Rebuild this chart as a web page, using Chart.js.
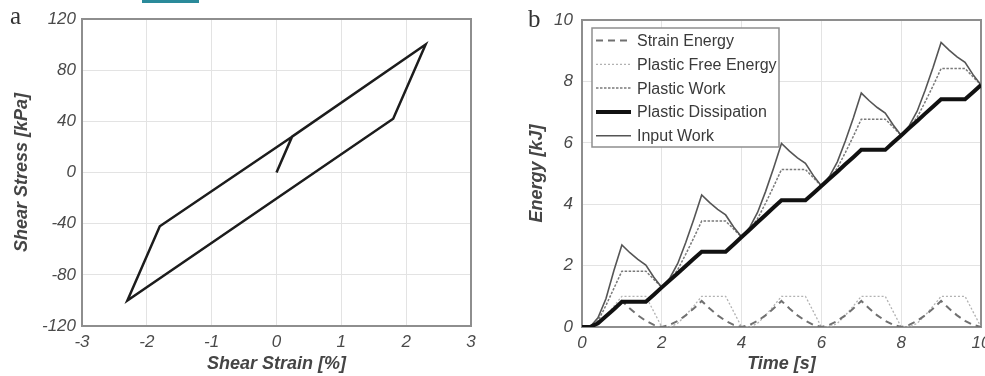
<!DOCTYPE html>
<html><head><meta charset="utf-8">
<script src="https://cdn.jsdelivr.net/npm/chart.js@4.4.0/dist/chart.umd.min.js"></script>
<style>
html,body{margin:0;padding:0;background:#fff;overflow:hidden;width:985px;height:376px;position:relative;}
#wa{position:absolute;left:0;top:0;width:490px;height:376px;}
#wb{position:absolute;left:490px;top:0;width:510px;height:376px;}
.lbl{position:absolute;font-family:"Liberation Serif","Times New Roman",serif;font-size:25px;line-height:25px;color:#333;}
#la{left:10px;top:3px;}
#lb{left:528px;top:6px;}
#link{position:absolute;left:142px;top:0;width:57px;height:3px;background:#2a8a9a;}
</style></head><body>
<div id="wa"><canvas id="ca" width="490" height="376"></canvas></div>
<div id="wb"><canvas id="cb" width="510" height="376"></canvas></div>
<div id="link"></div>
<div class="lbl" id="la">a</div>
<div class="lbl" id="lb">b</div>
<script>
// ---- Panel a: hysteresis loop ----
const strain = [0, 0.24, 2.3, 1.8, -2.3, -1.8, 0.24];
const stress = [0, 28, 100, 42, -100, -42, 28];

// ---- Panel b: energies vs time ----
const time = [0,0.2,0.4,0.6,0.8,1.0,1.2,1.4,1.6,1.8,2.0,2.2,2.4,2.6,2.8,3.0,3.2,3.4,3.6,3.8,4.0,4.2,4.4,4.6,4.8,5.0,5.2,5.4,5.6,5.8,6.0,6.2,6.4,6.6,6.8,7.0,7.2,7.4,7.6,7.8,8.0,8.2,8.4,8.6,8.8,9.0,9.2,9.4,9.6,9.8,10.0];
const strainEnergy = [0,0,0.1,0.33,0.58,0.85, 0.6,0.38,0.2,0.07,0, 0.07,0.2,0.38,0.6,0.85, 0.6,0.38,0.2,0.07,0, 0.07,0.2,0.38,0.6,0.85, 0.6,0.38,0.2,0.07,0, 0.07,0.2,0.38,0.6,0.85, 0.6,0.38,0.2,0.07,0, 0.07,0.2,0.38,0.6,0.85, 0.6,0.38,0.2,0.07,0];
const plasticFreeEnergy = [0,0,0.08,0.35,0.68,1, 1,1,1,0.5,0, 0,0.12,0.38,0.68,1, 1,1,1,0.5,0, 0,0.12,0.38,0.68,1, 1,1,1,0.5,0, 0,0.12,0.38,0.68,1, 1,1,1,0.5,0, 0,0.12,0.38,0.68,1, 1,1,1,0.5,0];
const plasticWork = [0,0,0.2,0.7,1.26,1.82, 1.82,1.82,1.82,1.55,1.29, 1.52,1.87,2.37,2.9,3.45, 3.45,3.45,3.45,3.19,2.93, 3.17,3.53,4.03,4.57,5.13, 5.13,5.13,5.13,4.86,4.59, 4.83,5.18,5.68,6.21,6.77, 6.77,6.77,6.77,6.51,6.24, 6.48,6.83,7.33,7.86,8.42, 8.42,8.42,8.42,8.15,7.88];
const plasticDissipation = [0,0,0.12,0.35,0.58,0.82, 0.82,0.82,0.82,1.05,1.29, 1.52,1.75,1.99,2.22,2.45, 2.45,2.45,2.45,2.69,2.93, 3.17,3.41,3.65,3.89,4.13, 4.13,4.13,4.13,4.36,4.59, 4.83,5.06,5.3,5.53,5.77, 5.77,5.77,5.77,6.01,6.24, 6.48,6.71,6.95,7.18,7.42, 7.42,7.42,7.42,7.65,7.88];
const inputWork = [0,0,0.3,0.92,1.84,2.67, 2.42,2.2,2.02,1.62,1.29, 1.59,2.07,2.75,3.5,4.3, 4.05,3.83,3.65,3.26,2.93, 3.24,3.73,4.41,5.17,5.98, 5.73,5.51,5.33,4.93,4.59, 4.9,5.38,6.06,6.81,7.62, 7.37,7.15,6.97,6.58,6.24, 6.55,7.03,7.71,8.46,9.27, 9.02,8.8,8.62,8.22,7.88];
const seriesLabels = ['Strain Energy','Plastic Free Energy','Plastic Work','Plastic Dissipation','Input Work'];

const FONT = "'Liberation Sans', Arial, Helvetica, sans-serif";
const tickFont = {family: FONT, size: 17, style: 'italic'};
const titleFont = {family: FONT, size: 18, style: 'italic', weight: 'bold'};
const tickColor = '#4a4a4a';
const titleColor = '#454545';
const gridColor = '#e3e3e3';

const boxPlugin = {
  id: 'plotBox',
  beforeDatasetsDraw(chart) {
    const {ctx, chartArea: a} = chart;
    ctx.save();
    ctx.strokeStyle = '#8e8e8e';
    ctx.lineWidth = 2;
    ctx.strokeRect(a.left, a.top, a.right - a.left, a.bottom - a.top);
    ctx.restore();
  }
};

const legendPlugin = {
  id: 'boxLegend',
  afterDatasetsDraw(chart) {
    const {ctx, chartArea: a} = chart;
    const bx = a.left + 10, by = a.top + 8, bw = 187, bh = 119;
    ctx.save();
    ctx.fillStyle = '#fff';
    ctx.fillRect(bx, by, bw, bh);
    ctx.strokeStyle = '#8e8e8e';
    ctx.lineWidth = 1.5;
    ctx.strokeRect(bx, by, bw, bh);
    chart.data.datasets.forEach((ds, i) => {
      const y = by + 12.5 + i * 23.8;
      ctx.save();
      ctx.strokeStyle = ds.borderColor;
      ctx.lineWidth = ds.borderWidth;
      ctx.setLineDash(ds.borderDash || []);
      ctx.beginPath();
      ctx.moveTo(bx + 4, y);
      ctx.lineTo(bx + 39, y);
      ctx.stroke();
      ctx.restore();
      ctx.fillStyle = '#3a3a3a';
      ctx.font = '16px ' + FONT;
      ctx.textBaseline = 'middle';
      ctx.textAlign = 'left';
      ctx.fillText(ds.label, bx + 45, y + 1);
    });
    ctx.restore();
  }
};

function axis(min, max, step, titleText, isX, fitSize, tickPad, titlePad) {
  return {
    type: 'linear', min, max,
    ticks: {stepSize: step, font: tickFont, color: tickColor, padding: tickPad, maxRotation: 0, autoSkip: false},
    grid: {color: gridColor, lineWidth: 1, drawTicks: false},
    border: {display: false},
    title: {display: true, text: titleText, font: titleFont, color: titleColor, padding: titlePad},
    afterFit(s) { if (isX) s.height = fitSize; else s.width = fitSize; }
  };
}

new Chart(document.getElementById('ca'), {
  type: 'scatter',
  data: {datasets: [{
    data: strain.map((x, i) => ({x, y: stress[i]})),
    showLine: true, borderColor: '#1c1c1c', borderWidth: 2.5, pointRadius: 0,
    borderJoinStyle: 'miter', tension: 0, fill: false
  }]},
  options: {
    responsive: false, animation: false, devicePixelRatio: 1,
    layout: {padding: {top: 19, right: 19, left: 0, bottom: 0}},
    plugins: {legend: {display: false}, tooltip: {enabled: false}},
    scales: {
      x: axis(-3, 3, 1, 'Shear Strain [%]', true, 50, 6, {top: 0, bottom: 1}),
      y: axis(-120, 120, 40, 'Shear Stress [kPa]', false, 82, 6, {top: 11, bottom: 0})
    }
  },
  plugins: [boxPlugin]
});

const styles = [
  {borderColor: '#707070', borderWidth: 2, borderDash: [7, 5], order: 2},
  {borderColor: '#b2b2b2', borderWidth: 1.3, borderDash: [2, 2], order: 3},
  {borderColor: '#7a7a7a', borderWidth: 1.5, borderDash: [2.5, 1.5], order: 2},
  {borderColor: '#111111', borderWidth: 4, order: 0},
  {borderColor: '#555555', borderWidth: 1.6, order: 1}
];
const seriesValues = [strainEnergy, plasticFreeEnergy, plasticWork, plasticDissipation, inputWork];

new Chart(document.getElementById('cb'), {
  type: 'scatter',
  data: {datasets: seriesValues.map((vals, k) => Object.assign({
    label: seriesLabels[k],
    data: time.map((t, i) => ({x: t, y: vals[i]})),
    showLine: true, pointRadius: 0, tension: 0, fill: false, borderJoinStyle: 'miter'
  }, styles[k]))},
  options: {
    responsive: false, animation: false, devicePixelRatio: 1,
    layout: {padding: {top: 20, right: 19, left: 0, bottom: 0}},
    plugins: {legend: {display: false}, tooltip: {enabled: false}},
    scales: {
      x: axis(0, 10, 2, 'Time [s]', true, 49, 6, {top: 0, bottom: 1}),
      y: axis(0, 10, 2, 'Energy [kJ]', false, 92, 9, {top: 36, bottom: 0})
    }
  },
  plugins: [boxPlugin, legendPlugin]
});
</script>
</body></html>
